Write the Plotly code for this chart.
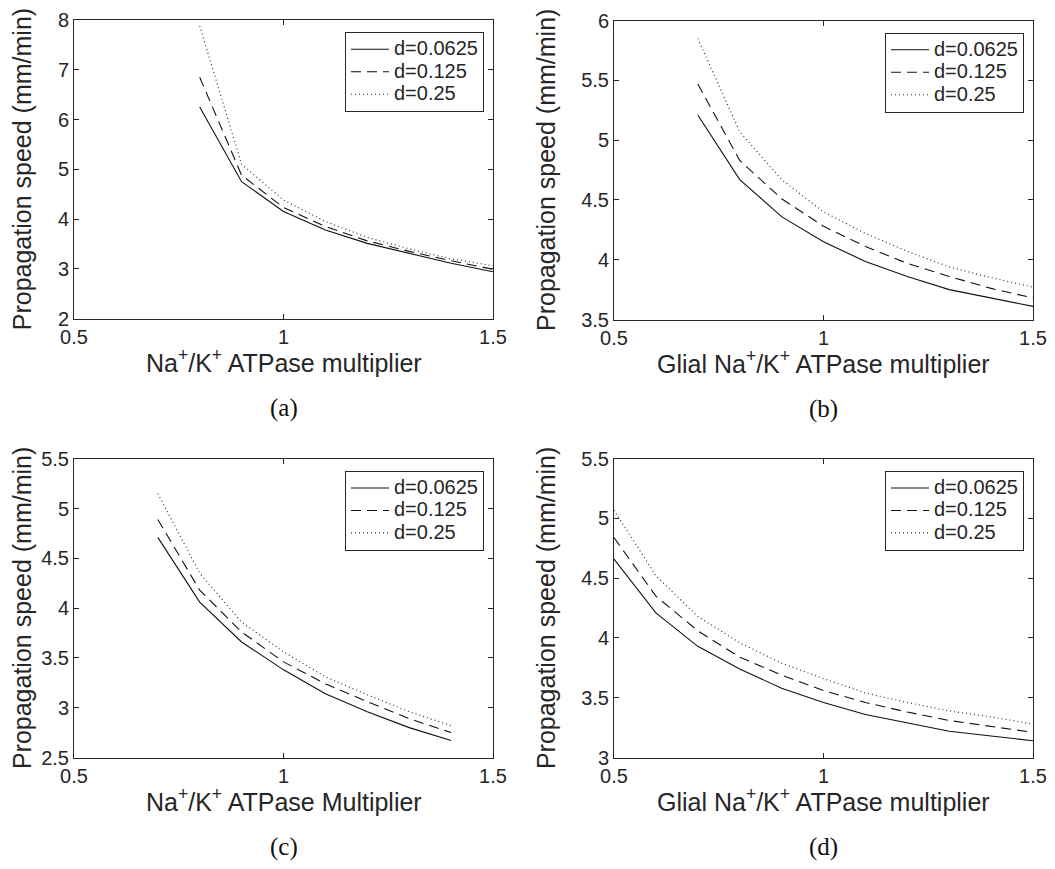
import plotly.graph_objects as go

# ---------------- data ----------------
series_names = ["d=0.0625", "d=0.125", "d=0.25"]

x_a = [0.8, 0.9, 1.0, 1.1, 1.2, 1.3, 1.4, 1.5]
a_d0625 = [6.25, 4.75, 4.15, 3.78, 3.51, 3.31, 3.11, 2.94]
a_d125 = [6.85, 4.88, 4.23, 3.85, 3.56, 3.35, 3.16, 2.99]
a_d25 = [7.88, 5.10, 4.38, 3.95, 3.63, 3.40, 3.20, 3.06]

x_b = [0.7, 0.8, 0.9, 1.0, 1.1, 1.2, 1.3, 1.4, 1.5]
b_d0625 = [5.21, 4.67, 4.36, 4.15, 3.985, 3.86, 3.75, 3.68, 3.61]
b_d125 = [5.47, 4.83, 4.51, 4.28, 4.11, 3.97, 3.86, 3.76, 3.68]
b_d25 = [5.85, 5.07, 4.67, 4.40, 4.22, 4.07, 3.94, 3.85, 3.77]

x_c = [0.7, 0.8, 0.9, 1.0, 1.1, 1.2, 1.3, 1.4]
c_d0625 = [4.71, 4.06, 3.66, 3.38, 3.14, 2.96, 2.80, 2.67]
c_d125 = [4.89, 4.18, 3.76, 3.46, 3.24, 3.06, 2.89, 2.75]
c_d25 = [5.15, 4.35, 3.86, 3.56, 3.31, 3.13, 2.96, 2.82]

x_d = [0.5, 0.6, 0.7, 0.8, 0.9, 1.0, 1.1, 1.2, 1.3, 1.4, 1.5]
d_d0625 = [4.66, 4.21, 3.93, 3.74, 3.58, 3.46, 3.36, 3.29, 3.22, 3.18, 3.14]
d_d125 = [4.84, 4.35, 4.06, 3.84, 3.69, 3.56, 3.46, 3.38, 3.31, 3.26, 3.21]
d_d25 = [5.07, 4.52, 4.18, 3.96, 3.79, 3.66, 3.54, 3.46, 3.39, 3.34, 3.28]

x_ticks = [0.5, 1, 1.5]
y_ticks_a = [2, 3, 4, 5, 6, 7, 8]
y_ticks_b = [3.5, 4, 4.5, 5, 5.5, 6]
y_ticks_c = [2.5, 3, 3.5, 4, 4.5, 5, 5.5]
y_ticks_d = [3, 3.5, 4, 4.5, 5, 5.5]

x_titles = [
    "Na<sup>+</sup>/K<sup>+</sup> ATPase multiplier",
    "Glial Na<sup>+</sup>/K<sup>+</sup> ATPase multiplier",
    "Na<sup>+</sup>/K<sup>+</sup> ATPase Multiplier",
    "Glial Na<sup>+</sup>/K<sup>+</sup> ATPase multiplier",
]
y_title = "Propagation speed (mm/min)"
captions = ["(a)", "(b)", "(c)", "(d)"]

# ---------------- layout geometry ----------------
W, H = 1055, 869
SANS = "Liberation Sans, Arial, sans-serif"
SERIF = "Liberation Serif, Times New Roman, serif"
TXT = "#262626"
AX = "#262626"


def px_x(p):
    return p / W


def px_y(p):
    return (H - p) / H


panels = [
    dict(x=x_a, ys=[a_d0625, a_d125, a_d25], yr=[2, 8], yt=y_ticks_a,
         xd=[74, 493], yd=[20, 318.5], ytx=22),
    dict(x=x_b, ys=[b_d0625, b_d125, b_d25], yr=[3.5, 6], yt=y_ticks_b,
         xd=[614, 1033], yd=[20.5, 319.5], ytx=546),
    dict(x=x_c, ys=[c_d0625, c_d125, c_d25], yr=[2.5, 5.5], yt=y_ticks_c,
         xd=[74, 493], yd=[458.7, 757.5], ytx=22),
    dict(x=x_d, ys=[d_d0625, d_d125, d_d25], yr=[3, 5.5], yt=y_ticks_d,
         xd=[614, 1033], yd=[458.7, 757.5], ytx=546),
]

dashes = ["solid", "10px,6px", "1px,3px"]
widths = [1.1, 1.1, 1.2]
colors = ["#111111", "#111111", "#333333"]
LEG_SIZE = 20

fig = go.Figure()
annotations = []
layout = dict(
    template="none",
    width=W, height=H,
    margin=dict(l=0, r=0, t=0, b=0, pad=0),
    paper_bgcolor="white", plot_bgcolor="white",
    font=dict(family=SANS, color=TXT, size=20),
)

for i, p in enumerate(panels):
    n = i + 1
    xa = "x" if n == 1 else f"x{n}"
    ya = "y" if n == 1 else f"y{n}"
    lg = "legend" if n == 1 else f"legend{n}"
    for s in range(3):
        fig.add_trace(go.Scatter(
            x=p["x"], y=p["ys"][s], mode="lines",
            name=f'<span style="font-size:{LEG_SIZE}px">{series_names[s]}</span>',
            line=dict(color=colors[s], width=widths[s], dash=dashes[s]),
            xaxis=xa, yaxis=ya, legend=lg, showlegend=True,
        ))
    xkey = "xaxis" if n == 1 else f"xaxis{n}"
    ykey = "yaxis" if n == 1 else f"yaxis{n}"
    common = dict(showline=True, linecolor=AX, linewidth=1, mirror="ticks",
                  ticks="inside", ticklen=5, tickcolor=AX, tickwidth=1,
                  showgrid=False, zeroline=False, automargin=False,
                  tickfont=dict(family=SANS, size=20, color=TXT))
    layout[xkey] = dict(domain=[px_x(p["xd"][0]), px_x(p["xd"][1])],
                        anchor=ya, range=[0.5, 1.5], tickvals=x_ticks,
                        ticktext=["0.5", "1", "1.5"], **common)
    layout[ykey] = dict(domain=[px_y(p["yd"][1]), px_y(p["yd"][0])],
                        anchor=xa, range=p["yr"], tickvals=p["yt"],
                        ticktext=[f"{v:g}" for v in p["yt"]], **common)
    # legend
    layout[lg] = dict(
        x=px_x(p["xd"][1] - 9), y=px_y(p["yd"][0] + 12),
        xanchor="right", yanchor="top",
        bordercolor=AX, borderwidth=1, bgcolor="white",
        font=dict(family=SANS, size=15, color=TXT),
        itemwidth=38, tracegroupgap=0,
    )
    cx = (p["xd"][0] + p["xd"][1]) / 2
    cy = (p["yd"][0] + p["yd"][1]) / 2
    # x-axis title
    annotations.append(dict(
        text=x_titles[i], x=px_x(cx), y=px_y(p["yd"][1] + 42),
        xref="paper", yref="paper", xanchor="center", yanchor="middle",
        showarrow=False, font=dict(family=SANS, size=25, color=TXT)))
    # y-axis title
    annotations.append(dict(
        text=y_title, x=px_x(p["ytx"]), y=px_y(cy),
        xref="paper", yref="paper", xanchor="center", yanchor="middle",
        textangle=-90, showarrow=False,
        font=dict(family=SANS, size=25, color=TXT)))
    # caption
    annotations.append(dict(
        text=captions[i], x=px_x(cx), y=px_y(p["yd"][1] + 89),
        xref="paper", yref="paper", xanchor="center", yanchor="middle",
        showarrow=False, font=dict(family=SERIF, size=25, color="#111111")))

layout["annotations"] = annotations
fig.update_layout(**layout)
fig.write_html("out.html")
